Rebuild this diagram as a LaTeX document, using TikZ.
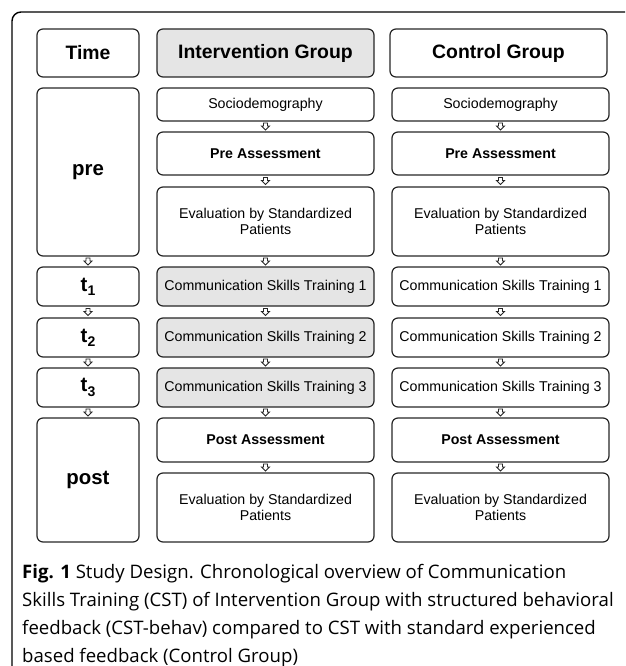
\documentclass[tikz,border=0pt]{standalone}
\usepackage{fontspec}
\setmainfont{Liberation Sans}
\newfontfamily\capfont{Open Sans}
\usetikzlibrary{calc}
\newcommand\flowarrow[2]{\draw[blk] ($(#1.south)!0.5!(#2.north)$) ++(-2,-3.5) -- ++(4,0) -- ++(0,3) -- ++(2,0) -- ++(-4,4) -- ++(-4,-4) -- ++(2,0) -- cycle;}
\begin{document}
\begin{tikzpicture}[x=1pt,y=-1pt,
  box/.style={draw=black!85, line width=1.2pt, rounded corners=6pt, inner sep=0pt, outer sep=0pt, align=center, font=\fontsize{14.2}{15.8}\selectfont},
  boldbox/.style={box, font=\fontsize{14.2}{15.8}\selectfont\bfseries},
  hdr/.style={box, font=\fontsize{19.4}{22}\selectfont\bfseries},
  timebox/.style={box, minimum width=102, font=\fontsize{20.4}{22}\selectfont\bfseries},
  icol/.style={minimum width=217},
  grey/.style={fill=black!10},
  blk/.style={draw=black!85, line width=0.9pt, fill=white, line join=miter}
]
\useasboundingbox (0,0) rectangle (625,666);
\begin{scope}
\clip (0,0) rectangle (625,666);
\draw[line width=1.4pt, rounded corners=9pt] (640,12) -- (12,12) -- (12,676) -- (640,676);
\end{scope}

% headers
\node[hdr, minimum width=102, minimum height=48] (th) at (88,53) {Time};
\node[hdr, grey, icol, minimum height=48] (ih) at (265.5,53) {Intervention Group};
\node[hdr, icol, minimum height=48] (ch) at (498.5,53) {Control Group};

% time column
\node[timebox, minimum height=168] (tpre) at (88,172) {pre};
\node[timebox, minimum height=39] (tt1) at (88,286.5) {t\raisebox{-0.4ex}{\fontsize{14}{14}\selectfont 1}};
\node[timebox, minimum height=39] (tt2) at (88,337.5) {t\raisebox{-0.4ex}{\fontsize{14}{14}\selectfont 2}};
\node[timebox, minimum height=39] (tt3) at (88,387.5) {t\raisebox{-0.4ex}{\fontsize{14}{14}\selectfont 3}};
\node[timebox, minimum height=124] (tpost) at (88,480) {post};

% intervention column
\node[box, icol, minimum height=33] (i1) at (265.5,104.5) {Sociodemography};
\node[boldbox, icol, minimum height=43] (i2) at (265.5,153.5) {Pre Assessment};
\node[box, icol, minimum height=69] (i3) at (265.5,221.5) {Evaluation by Standardized\\Patients};
\node[box, grey, icol, minimum height=39] (i4) at (265.5,286.5) {Communication Skills Training 1};
\node[box, grey, icol, minimum height=39] (i5) at (265.5,337.5) {Communication Skills Training 2};
\node[box, grey, icol, minimum height=39] (i6) at (265.5,387.5) {Communication Skills Training 3};
\node[boldbox, icol, minimum height=44] (i7) at (265.5,440) {Post Assessment};
\node[box, icol, minimum height=69] (i8) at (265.5,507.5) {Evaluation by Standardized\\Patients};

% control column
\node[box, icol, minimum height=33] (c1) at (500.5,104.5) {Sociodemography};
\node[boldbox, icol, minimum height=43] (c2) at (500.5,153.5) {Pre Assessment};
\node[box, icol, minimum height=69] (c3) at (500.5,221.5) {Evaluation by Standardized\\Patients};
\node[box, icol, minimum height=39] (c4) at (500.5,286.5) {Communication Skills Training 1};
\node[box, icol, minimum height=39] (c5) at (500.5,337.5) {Communication Skills Training 2};
\node[box, icol, minimum height=39] (c6) at (500.5,387.5) {Communication Skills Training 3};
\node[boldbox, icol, minimum height=44] (c7) at (500.5,440) {Post Assessment};
\node[box, icol, minimum height=69] (c8) at (500.5,507.5) {Evaluation by Standardized\\Patients};

% arrows
\flowarrow{tpre}{tt1}
\flowarrow{tt1}{tt2}
\flowarrow{tt2}{tt3}
\flowarrow{tt3}{tpost}
\foreach \a/\b in {1/2,2/3,3/4,4/5,5/6,6/7,7/8}{
  \flowarrow{i\a}{i\b}
  \flowarrow{c\a}{c\b}
}

% caption
\node[anchor=north west, align=left, inner sep=0pt, font=\capfont\fontsize{18.6}{28}\selectfont] (cap) at (22,564)
{\textbf{Fig. 1} Study Design. Chronological overview of Communication\\
Skills Training (CST) of Intervention Group with structured behavioral\\
feedback (CST-behav) compared to CST with standard experienced\\
based feedback (Control Group)};
\end{tikzpicture}
\end{document}
